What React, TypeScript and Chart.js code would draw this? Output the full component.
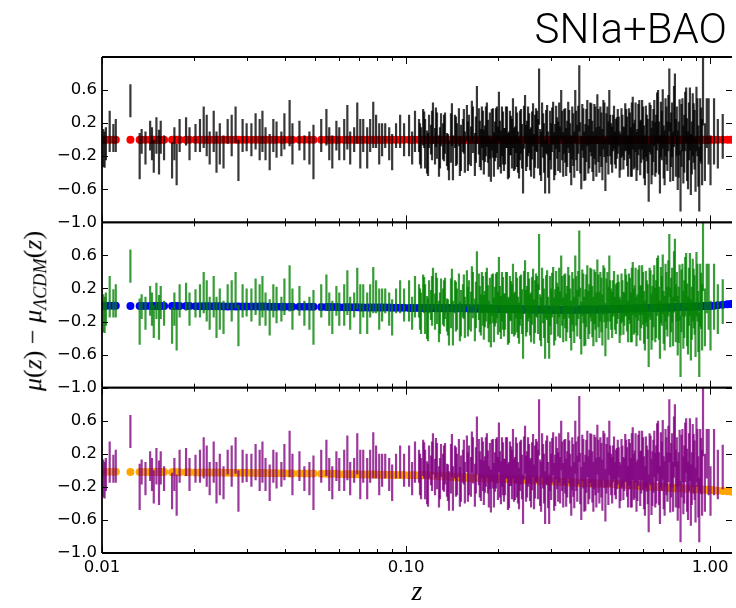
import React, { useEffect, useRef } from "react";
import { Chart, registerables } from "chart.js";

Chart.register(...registerables);

// ---------- axes ----------
const X_MIN = 0.01;
const X_MAX = 1.18;
const X_TICKS = [0.01, 0.1, 1.0];
const X_MINOR = [0.02, 0.03, 0.04, 0.05, 0.06, 0.07, 0.08, 0.09, 0.2, 0.3, 0.4, 0.5, 0.6, 0.7, 0.8, 0.9];
const Y_TICKS = [-1.0, -0.6, -0.2, 0.2, 0.6];

// ---------- SN redshifts (set A: also where model points are drawn) ----------
const Z = [
  // z < 0.11
  0.0101, 0.0102, 0.0103, 0.0106, 0.0109, 0.0111, 0.0124, 0.0133, 0.0135, 0.0139,
  0.0144, 0.0146, 0.0148, 0.0151, 0.0154, 0.0156, 0.0160, 0.0170, 0.0173, 0.0176,
  0.0180, 0.0189, 0.0194, 0.0203, 0.0210, 0.0216, 0.0221, 0.0226, 0.0233, 0.0238,
  0.0244, 0.0251, 0.0259, 0.0267, 0.0275, 0.0281, 0.0290, 0.0299, 0.0310, 0.0320,
  0.0330, 0.0337, 0.0345, 0.0356, 0.0366, 0.0375, 0.0389, 0.0398, 0.0414, 0.0423,
  0.0446, 0.0463, 0.0481, 0.0496, 0.0526, 0.0547, 0.0559, 0.0572, 0.0590, 0.0603,
  0.0626, 0.0641, 0.0655, 0.0675, 0.0691, 0.0707, 0.0723, 0.0745, 0.0762, 0.0780,
  0.0797, 0.0816, 0.0834, 0.0854, 0.0880, 0.0900, 0.0927, 0.0956, 0.0985, 0.1023,
  0.1047, 0.1070,
  // 0.11 - 0.17
  0.1103, 0.1120, 0.1138, 0.1155, 0.1172, 0.1190, 0.1208, 0.1226, 0.1245, 0.1264,
  0.1283, 0.1303, 0.1323, 0.1343, 0.1363, 0.1384, 0.1405, 0.1426, 0.1448, 0.1470,
  0.1492, 0.1515, 0.1538, 0.1561, 0.1585, 0.1609, 0.1634, 0.1659, 0.1684, 0.1710,
  // 0.17 - 0.46
  0.1735, 0.1762, 0.1789, 0.1816, 0.1844, 0.1872, 0.1901, 0.1930, 0.1960, 0.1990,
  0.2020, 0.2051, 0.2083, 0.2115, 0.2147, 0.2180, 0.2213, 0.2247, 0.2282, 0.2317,
  0.2352, 0.2388, 0.2425, 0.2462, 0.2500, 0.2538, 0.2577, 0.2616, 0.2656, 0.2697,
  0.2738, 0.2780, 0.2823, 0.2866, 0.2910, 0.2955, 0.3000, 0.3046, 0.3093, 0.3140,
  0.3188, 0.3237, 0.3287, 0.3337, 0.3388, 0.3440, 0.3493, 0.3547, 0.3601, 0.3656,
  0.3712, 0.3769, 0.3827, 0.3886, 0.3945, 0.4006, 0.4067, 0.4130, 0.4193, 0.4257,
  0.4322, 0.4389, 0.4456, 0.4524, 0.4594,
  // 0.46 - 1.0
  0.4660, 0.4727, 0.4795, 0.4863, 0.4933, 0.5003, 0.5075, 0.5147, 0.5221, 0.5296,
  0.5371, 0.5448, 0.5526, 0.5605, 0.5685, 0.5766, 0.5849, 0.5932, 0.6017, 0.6103,
  0.6190, 0.6279, 0.6368, 0.6460, 0.6552, 0.6646, 0.6741, 0.6837, 0.6935, 0.7034,
  0.7134, 0.7236, 0.7340, 0.7445, 0.7551, 0.7659, 0.7768, 0.7879, 0.7992, 0.8106,
  0.8222, 0.8339, 0.8458, 0.8579, 0.8702, 0.8826, 0.8952, 0.9080, 0.9210, 0.9341,
  0.9475, 0.9610, 0.9748, 0.9887, 1.0028,
  // > 1.0
  1.030, 1.060, 1.100, 1.140, 1.170,
];

// residuals mu(z) - mu_LCDM(z), set A
const RES = [
  -0.10, -0.12, -0.05, 0.10, 0.02, 0.05, 0.47, -0.20, -0.02, -0.10,
  0.05, -0.05, -0.20, 0.05, -0.15, 0.03, -0.10, -0.25, -0.05, -0.30,
  0.05, 0.10, -0.05, 0.02, 0.05, 0.15, 0.05, -0.10, 0.10, -0.15,
  -0.05, -0.15, 0.10, 0.05, 0.18, -0.25, 0.05, 0.03, 0.00, 0.10,
  0.00, 0.10, -0.05, -0.15, 0.05, 0.00, -0.05, 0.10, 0.20, -0.05,
  0.05, -0.10, -0.10, -0.15, 0.05, 0.15, -0.05, -0.15, 0.05, -0.05,
  0.00, 0.15, -0.10, 0.00, 0.20, -0.05, 0.05, -0.10, 0.05, 0.18,
  0.10, -0.05, 0.00, 0.05, -0.05, -0.15, 0.05, 0.10, 0.00, 0.05,
  -0.10, 0.10,
  0.05, -0.10, 0.15, -0.05, -0.15, 0.10, 0.00, 0.20, -0.08, 0.05,
  -0.20, 0.12, -0.02, 0.08, -0.12, -0.25, 0.02, -0.22, 0.10, -0.05,
  0.15, -0.10, 0.05, -0.15, 0.20, 0.00, -0.08, 0.12, -0.18, 0.30,
  0.10, -0.12, 0.05, -0.05, 0.18, -0.20, -0.25, 0.08, -0.02, 0.12,
  0.28, -0.15, 0.02, -0.08, 0.15, -0.18, 0.05, 0.20, -0.10, 0.00,
  -0.22, 0.10, -0.35, 0.25, -0.05, 0.08, -0.15, 0.18, -0.02, 0.10,
  0.52, -0.20, 0.05, -0.33, 0.12, -0.35, -0.08, 0.20, -0.12, 0.02,
  0.15, 0.30, -0.18, 0.05, -0.05, 0.10, -0.25, 0.00, 0.28, -0.10,
  0.50, -0.28, 0.08, -0.15, 0.20, -0.05, 0.12, -0.20, 0.05, 0.25,
  -0.12, 0.00, 0.18, -0.30, 0.10,
  0.27, -0.05, 0.08, -0.10, 0.02, 0.10, -0.15, 0.05, -0.05, 0.12,
  -0.20, 0.05, 0.00, -0.08, 0.15, -0.12, 0.18, -0.02, 0.08, -0.25,
  0.02, -0.40, 0.12, -0.10, 0.20, -0.05, 0.28, -0.30, 0.05, -0.15,
  0.15, -0.08, 0.48, 0.00, -0.20, 0.42, 0.10, -0.12, -0.50, 0.18,
  -0.05, 0.30, -0.25, 0.25, -0.10, 0.08, -0.30, 0.15, -0.48, 0.05,
  0.62, -0.15, 0.20, 0.10, -0.25,
  0.10, -0.05, 0.04, 0.00, 0.00,
];

// 1-sigma errors, set A
const ERR = [
  0.23, 0.22, 0.20, 0.25, 0.17, 0.20, 0.20, 0.28, 0.15, 0.20,
  0.18, 0.20, 0.20, 0.22, 0.27, 0.20, 0.15, 0.22, 0.20, 0.25,
  0.20, 0.17, 0.20, 0.17, 0.20, 0.25, 0.25, 0.20, 0.25, 0.25,
  0.25, 0.20, 0.15, 0.25, 0.22, 0.25, 0.20, 0.17, 0.20, 0.22,
  0.25, 0.25, 0.20, 0.22, 0.20, 0.22, 0.15, 0.22, 0.28, 0.25,
  0.18, 0.15, 0.20, 0.33, 0.20, 0.22, 0.20, 0.20, 0.18, 0.20,
  0.25, 0.27, 0.20, 0.15, 0.25, 0.30, 0.20, 0.25, 0.20, 0.28,
  0.20, 0.25, 0.20, 0.15, 0.20, 0.22, 0.15, 0.20, 0.20, 0.25,
  0.20, 0.25,
  0.20, 0.25, 0.22, 0.30, 0.26, 0.20, 0.18, 0.25, 0.22, 0.28,
  0.25, 0.20, 0.22, 0.25, 0.20, 0.24, 0.30, 0.27, 0.20, 0.25,
  0.23, 0.28, 0.20, 0.25, 0.22, 0.30, 0.24, 0.28, 0.26, 0.35,
  0.28, 0.25, 0.30, 0.22, 0.27, 0.25, 0.26, 0.30, 0.24, 0.28,
  0.30, 0.26, 0.32, 0.22, 0.25, 0.28, 0.24, 0.30, 0.26, 0.33,
  0.25, 0.27, 0.30, 0.29, 0.28, 0.24, 0.30, 0.26, 0.32, 0.25,
  0.34, 0.30, 0.27, 0.32, 0.30, 0.30, 0.28, 0.26, 0.31, 0.25,
  0.30, 0.30, 0.27, 0.33, 0.28, 0.26, 0.30, 0.32, 0.32, 0.28,
  0.40, 0.32, 0.30, 0.34, 0.28, 0.30, 0.32, 0.30, 0.35, 0.30,
  0.28, 0.33, 0.30, 0.32, 0.30,
  0.33, 0.25, 0.22, 0.20, 0.25, 0.18, 0.22, 0.25, 0.20, 0.25,
  0.25, 0.28, 0.45, 0.28, 0.30, 0.25, 0.30, 0.26, 0.32, 0.30,
  0.28, 0.35, 0.30, 0.33, 0.28, 0.35, 0.32, 0.35, 0.30, 0.32,
  0.35, 0.30, 0.38, 0.33, 0.30, 0.38, 0.30, 0.34, 0.37, 0.32,
  0.35, 0.33, 0.35, 0.38, 0.32, 0.36, 0.33, 0.35, 0.39, 0.34,
  0.45, 0.35, 0.30, 0.40, 0.30,
  0.40, 0.30, 0.27, 0.00, 0.00,
];

// ---------- SN set B (the crowded 0.11 < z < 1 range) ----------
const Z_B = [
  0.1111, 0.1147, 0.1181, 0.1217, 0.1254, 0.1293, 0.1333, 0.1373, 0.1415, 0.1459,
  0.1503, 0.1549, 0.1597, 0.1646, 0.1697,
  0.1748, 0.1775, 0.1802, 0.1830, 0.1858, 0.1886, 0.1915, 0.1945, 0.1975, 0.2005,
  0.2035, 0.2067, 0.2099, 0.2131, 0.2163, 0.2196, 0.2230, 0.2264, 0.2299, 0.2334,
  0.2370, 0.2406, 0.2443, 0.2481, 0.2519, 0.2557, 0.2596, 0.2636, 0.2676, 0.2717,
  0.2759, 0.2801, 0.2844, 0.2888, 0.2932, 0.2977, 0.3023, 0.3069, 0.3116, 0.3164,
  0.3212, 0.3262, 0.3312, 0.3362, 0.3414, 0.3466, 0.3520, 0.3574, 0.3628, 0.3684,
  0.3740, 0.3798, 0.3856, 0.3915, 0.3975, 0.4036, 0.4098, 0.4161, 0.4225, 0.4289,
  0.4355, 0.4422, 0.4490, 0.4559, 0.4627,
  0.4693, 0.4761, 0.4829, 0.4898, 0.4968, 0.5039, 0.5111, 0.5184, 0.5258, 0.5333,
  0.5409, 0.5487, 0.5565, 0.5645, 0.5725, 0.5807, 0.5890, 0.5974, 0.6060, 0.6146,
  0.6234, 0.6323, 0.6414, 0.6506, 0.6599, 0.6693, 0.6789, 0.6886, 0.6984, 0.7084,
  0.7185, 0.7288, 0.7392, 0.7498, 0.7605, 0.7713, 0.7823, 0.7935, 0.8049, 0.8164,
  0.8280, 0.8398, 0.8518, 0.8640, 0.8764, 0.8889, 0.9016, 0.9145, 0.9275, 0.9408,
];
const RES_B = [
  -0.05, 0.12, -0.18, 0.05, 0.15, -0.10, 0.02, -0.15, 0.18, -0.02,
  -0.20, 0.10, -0.08, 0.22, 0.00,
  -0.05, 0.15, -0.15, 0.10, -0.02, 0.05, 0.12, -0.18, 0.08, -0.10,
  -0.05, 0.10, -0.12, 0.15, -0.20, 0.08, -0.05, -0.12, 0.12, -0.15,
  0.05, -0.08, 0.15, -0.10, 0.10, -0.12, 0.05, -0.20, 0.12, -0.05,
  -0.15, 0.18, -0.10, 0.10, -0.18, 0.05, 0.12, -0.20, 0.15, -0.08,
  -0.12, 0.05, 0.10, -0.15, 0.18, -0.10, 0.08, -0.18, 0.05, 0.12,
  -0.10, 0.15, -0.20, 0.05, -0.12, 0.15, -0.08, 0.10, -0.15, 0.05,
  0.10, -0.18, 0.12, 0.02, -0.10,
  0.05, -0.12, 0.15, -0.05, 0.10, -0.18, 0.08, -0.10, 0.15, -0.02,
  0.10, -0.15, 0.20, -0.05, -0.20, 0.12, -0.10, 0.18, -0.15, 0.10,
  -0.08, 0.15, -0.20, 0.05, -0.12, 0.22, -0.10, 0.12, 0.25, -0.22,
  0.05, 0.20, -0.15, 0.12, 0.28, -0.10, -0.25, 0.15, 0.05, -0.18,
  0.22, -0.12, 0.10, -0.30, 0.18, 0.00, 0.25, -0.20, 0.12, -0.15,
];
const ERR_B = [
  0.25, 0.22, 0.26, 0.30, 0.24, 0.25, 0.28, 0.22, 0.26, 0.30,
  0.24, 0.27, 0.30, 0.25, 0.28,
  0.28, 0.25, 0.27, 0.30, 0.26, 0.28, 0.25, 0.27, 0.30, 0.26,
  0.28, 0.30, 0.26, 0.25, 0.28, 0.27, 0.30, 0.26, 0.28, 0.25,
  0.30, 0.27, 0.26, 0.28, 0.30, 0.25, 0.29, 0.27, 0.26, 0.30,
  0.28, 0.27, 0.30, 0.26, 0.28, 0.30, 0.27, 0.29, 0.26, 0.30,
  0.28, 0.30, 0.27, 0.29, 0.28, 0.30, 0.32, 0.28, 0.30, 0.29,
  0.31, 0.28, 0.30, 0.32, 0.29, 0.30, 0.31, 0.33, 0.30, 0.32,
  0.30, 0.31, 0.33, 0.30, 0.32,
  0.25, 0.28, 0.26, 0.30, 0.27, 0.28, 0.30, 0.26, 0.29, 0.30,
  0.28, 0.30, 0.32, 0.29, 0.30, 0.31, 0.33, 0.30, 0.32, 0.31,
  0.33, 0.30, 0.34, 0.32, 0.33, 0.35, 0.32, 0.34, 0.36, 0.33,
  0.35, 0.34, 0.36, 0.33, 0.37, 0.35, 0.36, 0.34, 0.38, 0.35,
  0.36, 0.38, 0.35, 0.37, 0.38, 0.36, 0.39, 0.37, 0.38, 0.40,
];

// ---------- model predictions relative to LCDM, at the set-A redshifts ----------
// top panel: LCDM itself, identically zero
const MODEL_LCDM = Z.map(() => 0);
// middle panel (blue)
const MODEL_BLUE = [
  -0.010, -0.010, -0.010, -0.010, -0.010, -0.010, -0.011, -0.011, -0.011, -0.011,
  -0.011, -0.011, -0.011, -0.011, -0.011, -0.011, -0.011, -0.013, -0.013, -0.013,
  -0.013, -0.013, -0.013, -0.015, -0.015, -0.015, -0.015, -0.015, -0.015, -0.015,
  -0.015, -0.017, -0.017, -0.017, -0.017, -0.017, -0.017, -0.017, -0.019, -0.019,
  -0.019, -0.019, -0.019, -0.020, -0.020, -0.020, -0.020, -0.020, -0.022, -0.022,
  -0.022, -0.022, -0.022, -0.022, -0.025, -0.025, -0.025, -0.025, -0.025, -0.027,
  -0.027, -0.027, -0.027, -0.027, -0.027, -0.029, -0.029, -0.029, -0.029, -0.029,
  -0.029, -0.031, -0.031, -0.031, -0.031, -0.033, -0.033, -0.033, -0.033, -0.035,
  -0.035, -0.035,
  -0.036, -0.036, -0.036, -0.036, -0.036, -0.037, -0.037, -0.037, -0.037, -0.037,
  -0.038, -0.038, -0.038, -0.038, -0.038, -0.039, -0.039, -0.039, -0.039, -0.039,
  -0.040, -0.040, -0.040, -0.040, -0.040, -0.042, -0.042, -0.042, -0.042, -0.042,
  -0.043, -0.043, -0.043, -0.043, -0.043, -0.045, -0.045, -0.045, -0.045, -0.045,
  -0.047, -0.047, -0.047, -0.047, -0.047, -0.049, -0.049, -0.049, -0.049, -0.049,
  -0.051, -0.051, -0.051, -0.051, -0.051, -0.053, -0.053, -0.053, -0.053, -0.053,
  -0.055, -0.055, -0.055, -0.055, -0.055, -0.057, -0.057, -0.057, -0.057, -0.057,
  -0.058, -0.058, -0.058, -0.058, -0.058, -0.057, -0.057, -0.057, -0.057, -0.057,
  -0.055, -0.055, -0.055, -0.055, -0.055, -0.053, -0.053, -0.053, -0.053, -0.053,
  -0.051, -0.051, -0.051, -0.051, -0.051,
  -0.049, -0.049, -0.049, -0.049, -0.049, -0.046, -0.046, -0.046, -0.046, -0.046,
  -0.043, -0.043, -0.043, -0.043, -0.043, -0.040, -0.040, -0.040, -0.040, -0.040,
  -0.036, -0.036, -0.036, -0.036, -0.036, -0.033, -0.033, -0.033, -0.033, -0.033,
  -0.029, -0.029, -0.029, -0.029, -0.029, -0.025, -0.025, -0.025, -0.025, -0.025,
  -0.021, -0.021, -0.021, -0.021, -0.021, -0.017, -0.017, -0.017, -0.017, -0.017,
  -0.013, -0.013, -0.013, -0.013, -0.013,
  -0.008, -0.004, 0.002, 0.008, 0.012,
];
// bottom panel (orange)
const MODEL_ORANGE = [
  -0.018, -0.018, -0.018, -0.018, -0.018, -0.018, -0.020, -0.020, -0.020, -0.020,
  -0.020, -0.020, -0.020, -0.020, -0.020, -0.020, -0.020, -0.023, -0.023, -0.023,
  -0.023, -0.023, -0.023, -0.026, -0.026, -0.026, -0.026, -0.026, -0.026, -0.026,
  -0.026, -0.029, -0.029, -0.029, -0.029, -0.029, -0.029, -0.029, -0.032, -0.032,
  -0.032, -0.032, -0.032, -0.035, -0.035, -0.035, -0.035, -0.035, -0.038, -0.038,
  -0.038, -0.038, -0.038, -0.038, -0.042, -0.042, -0.042, -0.042, -0.042, -0.046,
  -0.046, -0.046, -0.046, -0.046, -0.046, -0.049, -0.049, -0.049, -0.049, -0.049,
  -0.049, -0.052, -0.052, -0.052, -0.052, -0.055, -0.055, -0.055, -0.055, -0.058,
  -0.058, -0.058,
  -0.060, -0.060, -0.060, -0.060, -0.060, -0.066, -0.066, -0.066, -0.066, -0.066,
  -0.072, -0.072, -0.072, -0.072, -0.072, -0.079, -0.079, -0.079, -0.079, -0.079,
  -0.086, -0.086, -0.086, -0.086, -0.086, -0.093, -0.093, -0.093, -0.093, -0.093,
  -0.095, -0.095, -0.095, -0.095, -0.095, -0.099, -0.099, -0.099, -0.099, -0.099,
  -0.103, -0.103, -0.103, -0.103, -0.103, -0.108, -0.108, -0.108, -0.108, -0.108,
  -0.113, -0.113, -0.113, -0.113, -0.113, -0.119, -0.119, -0.119, -0.119, -0.119,
  -0.126, -0.126, -0.126, -0.126, -0.126, -0.133, -0.133, -0.133, -0.133, -0.133,
  -0.140, -0.140, -0.140, -0.140, -0.140, -0.147, -0.147, -0.147, -0.147, -0.147,
  -0.153, -0.153, -0.153, -0.153, -0.153, -0.158, -0.158, -0.158, -0.158, -0.158,
  -0.163, -0.163, -0.163, -0.163, -0.163,
  -0.166, -0.166, -0.166, -0.166, -0.166, -0.172, -0.172, -0.172, -0.172, -0.172,
  -0.180, -0.180, -0.180, -0.180, -0.180, -0.188, -0.188, -0.188, -0.188, -0.188,
  -0.196, -0.196, -0.196, -0.196, -0.196, -0.203, -0.203, -0.203, -0.203, -0.203,
  -0.210, -0.210, -0.210, -0.210, -0.210, -0.217, -0.217, -0.217, -0.217, -0.217,
  -0.223, -0.223, -0.223, -0.223, -0.223, -0.229, -0.229, -0.229, -0.229, -0.229,
  -0.236, -0.236, -0.236, -0.236, -0.236,
  -0.242, -0.246, -0.250, -0.254, -0.257,
];

const PANELS = [
  { id: "yTop", bar: "rgba(0,0,0,0.78)", dot: "#ff0000", model: MODEL_LCDM, weight: 3 },
  { id: "yMid", bar: "rgba(0,128,0,0.78)", dot: "#0000ff", model: MODEL_BLUE, weight: 2 },
  { id: "yBot", bar: "rgba(128,0,128,0.78)", dot: "#ffa500", model: MODEL_ORANGE, weight: 1 },
];

const fmtY = (v: number) => (v < 0 ? "\u2212" : "") + Math.abs(v).toFixed(1);

const framePlugin = {
  id: "panelFrame",
  afterDatasetsDraw(chart: any) {
    const ctx = chart.ctx as CanvasRenderingContext2D;
    const xs = chart.scales.x;
    const left = chart.chartArea.left;
    const right = chart.chartArea.right;
    ctx.save();
    ctx.strokeStyle = "#000";
    const seg = (x1: number, y1: number, x2: number, y2: number) => {
      ctx.beginPath();
      ctx.moveTo(x1, y1);
      ctx.lineTo(x2, y2);
      ctx.stroke();
    };
    for (const p of PANELS) {
      const s = chart.scales[p.id];
      const top = s.top;
      const bottom = s.bottom;
      ctx.lineWidth = 1;
      for (const v of Y_TICKS) {
        const py = Math.round(s.getPixelForValue(v)) + 0.5;
        seg(left, py, left + 6, py);
        seg(right - 6, py, right, py);
      }
      for (const v of X_TICKS) {
        const px = Math.round(xs.getPixelForValue(v)) + 0.5;
        seg(px, top, px, top + 7);
        seg(px, bottom, px, bottom - 7);
      }
      for (const v of X_MINOR) {
        const px = Math.round(xs.getPixelForValue(v)) + 0.5;
        seg(px, top, px, top + 4);
        seg(px, bottom, px, bottom - 4);
      }
      ctx.lineWidth = 1.8;
      seg(left, top, right, top);
      seg(left, bottom, right, bottom);
      seg(left, top, left, bottom);
    }
    ctx.restore();
  },
};

export default function App() {
  const ref = useRef<HTMLCanvasElement | null>(null);

  useEffect(() => {
    const canvas = ref.current;
    if (!canvas) return;

    const barData = [
      ...Z.map((z, i) => ({ x: z, y: [RES[i] - ERR[i], RES[i] + ERR[i]] })),
      ...Z_B.map((z, i) => ({ x: z, y: [RES_B[i] - ERR_B[i], RES_B[i] + ERR_B[i]] })),
    ];

    const datasets: any[] = [];
    for (const p of PANELS) {
      datasets.push({
        type: "bar",
        data: barData,
        backgroundColor: p.bar,
        borderWidth: 0,
        barThickness: 2.2,
        grouped: false,
        inflateAmount: 0,
        xAxisID: "x",
        yAxisID: p.id,
        order: 0,
      });
      datasets.push({
        type: "scatter",
        data: Z.map((z, i) => ({ x: z, y: p.model[i] })),
        pointRadius: 4,
        pointBackgroundColor: p.dot,
        pointBorderWidth: 0,
        showLine: false,
        xAxisID: "x",
        yAxisID: p.id,
        order: 1,
      });
    }

    const yAxis = (weight: number) => ({
      type: "linear",
      position: "left",
      stack: "panels",
      stackWeight: 1,
      weight,
      min: -1,
      max: 1,
      grid: { display: false, drawTicks: false },
      border: { display: false },
      ticks: {
        autoSkip: false,
        padding: 5,
        color: "#000",
        font: { family: "DejaVu Sans", size: 16.5 },
        callback: (v: any) => fmtY(Number(v)),
      },
      afterBuildTicks: (s: any) => {
        s.ticks = Y_TICKS.map((v) => ({ value: v }));
      },
      afterFit: (s: any) => {
        s.width = 102;
      },
    });

    const scales: any = {
      x: {
        type: "logarithmic",
        position: "bottom",
        min: X_MIN,
        max: X_MAX,
        offset: false,
        grid: { display: false, drawTicks: false },
        border: { display: false },
        ticks: {
          autoSkip: false,
          maxRotation: 0,
          padding: 5,
          color: "#000",
          font: { family: "DejaVu Sans", size: 16.5 },
          callback: (v: any) => Number(v).toFixed(2),
        },
        afterBuildTicks: (s: any) => {
          s.ticks = X_TICKS.map((v) => ({ value: v }));
        },
        title: {
          display: true,
          text: "z",
          color: "#000",
          font: { family: "Liberation Serif", style: "italic", size: 28, lineHeight: 1 },
          padding: { top: 0, bottom: 1 },
        },
        afterFit: (s: any) => {
          s.height = 55;
        },
      },
    };
    for (const p of PANELS) scales[p.id] = yAxis(p.weight);

    const chart = new Chart(canvas, {
      type: "scatter",
      data: { datasets },
      options: {
        animation: false,
        responsive: false,
        maintainAspectRatio: false,
        devicePixelRatio: 1,
        layout: { padding: { top: 57, left: 0, right: 0, bottom: 0 } },
        plugins: { legend: { display: false }, tooltip: { enabled: false }, title: { display: false } },
        scales,
      } as any,
      plugins: [framePlugin],
    } as any);

    return () => chart.destroy();
  }, []);

  return (
    <div style={{ position: "absolute", left: 0, top: 0, width: 736, height: 608, background: "#fff", overflow: "hidden" }}>
      <canvas ref={ref} width={736} height={608} style={{ position: "absolute", left: 0, top: 0, width: 736, height: 608 }} />
      <div
        style={{
          position: "absolute",
          right: 9,
          top: 8,
          fontFamily: "Roboto, 'Liberation Sans', sans-serif",
          fontWeight: 300,
          fontSize: 42,
          lineHeight: "42px",
          color: "#000",
          whiteSpace: "nowrap",
        }}
      >
        SNIa+BAO
      </div>
      <div
        style={{
          position: "absolute",
          left: 37,
          top: 311,
          transform: "translate(-50%, -50%) rotate(-90deg)",
          fontFamily: "'Liberation Serif', serif",
          fontSize: 26,
          lineHeight: "30px",
          color: "#000",
          whiteSpace: "nowrap",
        }}
      >
        <i>μ</i>(<i>z</i>) − <i>μ</i>
        <sub style={{ fontSize: "0.7em", verticalAlign: "-0.3em" }}>
          <i>ΛCDM</i>
        </sub>
        (<i>z</i>)
      </div>
    </div>
  );
}
